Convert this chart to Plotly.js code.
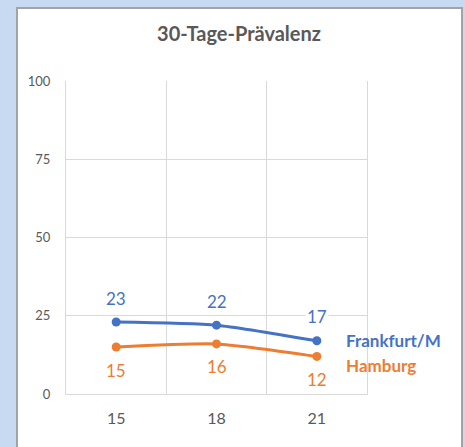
<!DOCTYPE html>
<html><head><meta charset="utf-8">
<script src="https://cdn.plot.ly/plotly-3.0.1.min.js"></script>
<style>
html,body{margin:0;padding:0;width:465px;height:447px;overflow:hidden;background:#c7daf1;}
#card{position:absolute;left:16px;top:7px;width:443px;height:450px;background:#fff;border:2px solid #a3a3a3;}
#chart{position:absolute;left:0;top:0;width:465px;height:447px;}
</style></head>
<body><div id="card"></div><div id="chart"></div>
<script>
const categories = ['15','18','21'];
const frankfurt = [23,22,17];
const hamburg = [15,16,12];
const yTicks = [0,25,50,75,100];
const seriesNames = ['Frankfurt/M','Hamburg'];
const colors = ['#4472c4','#ed7d31'];
const FONT = 'Lato, "Noto Sans", sans-serif';

const traces = [frankfurt, hamburg].map((vals,i)=>({
  x: categories, y: vals, type:'scatter', mode:'lines+markers',
  name: seriesNames[i],
  line:{color:colors[i], width:3, shape:'spline', smoothing:0.6},
  marker:{color:colors[i], size:9},
  cliponaxis:false, hoverinfo:'skip'
}));

const annotations = [];
frankfurt.forEach((v,k)=>annotations.push({x:k,y:v,xref:'x',yref:'y',text:String(v),showarrow:false,yshift:24,bgcolor:'#fff',borderpad:1,font:{family:FONT,size:17,color:colors[0]}}));
hamburg.forEach((v,k)=>annotations.push({x:k,y:v,xref:'x',yref:'y',text:String(v),showarrow:false,yshift:-23,bgcolor:'#fff',borderpad:1,font:{family:FONT,size:17,color:colors[1]}}));
const last = categories.length-1;
annotations.push({x:last,y:frankfurt[last],xref:'x',yref:'y',text:'<b>'+seriesNames[0]+'</b>',showarrow:false,xanchor:'left',xshift:27,yshift:0,font:{family:FONT,size:17,color:colors[0]}});
annotations.push({x:last,y:hamburg[last],xref:'x',yref:'y',text:'<b>'+seriesNames[1]+'</b>',showarrow:false,xanchor:'left',xshift:27,yshift:-9,font:{family:FONT,size:17,color:colors[1]}});

const layout = {
  width:465, height:447,
  paper_bgcolor:'rgba(0,0,0,0)', plot_bgcolor:'rgba(0,0,0,0)',
  margin:{l:66,r:98,t:81,b:53},
  showlegend:false,
  title:{text:'<b>30-Tage-Prävalenz</b>', x:0.514, xanchor:'center', y:0.924, yanchor:'middle', font:{family:FONT,size:20,color:'#595959'}},
  xaxis:{type:'category', categoryorder:'array', categoryarray:categories, range:[-0.5,2.5],
    tickson:'boundaries', showgrid:true, gridcolor:'#d9d9d9', gridwidth:1, ticks:'', ticklen:0,
    showline:true, linecolor:'#d9d9d9', linewidth:1, mirror:false, zeroline:false,
    tickfont:{family:FONT,size:16,color:'#595959'}, ticklabelstandoff:10, fixedrange:true},
  yaxis:{range:[0,100], tickvals:yTicks, ticktext:yTicks.map(String), showgrid:true, gridcolor:'#d9d9d9', gridwidth:1,
    zeroline:false, showline:true, mirror:true, linecolor:'#d9d9d9', linewidth:1, ticks:'', tickfont:{family:FONT,size:13,color:'#595959'}, ticklabelstandoff:12, fixedrange:true},
  annotations: annotations,
  font:{family:FONT}
};
Plotly.newPlot('chart', traces, layout, {staticPlot:true, displayModeBar:false});
</script></body></html>
